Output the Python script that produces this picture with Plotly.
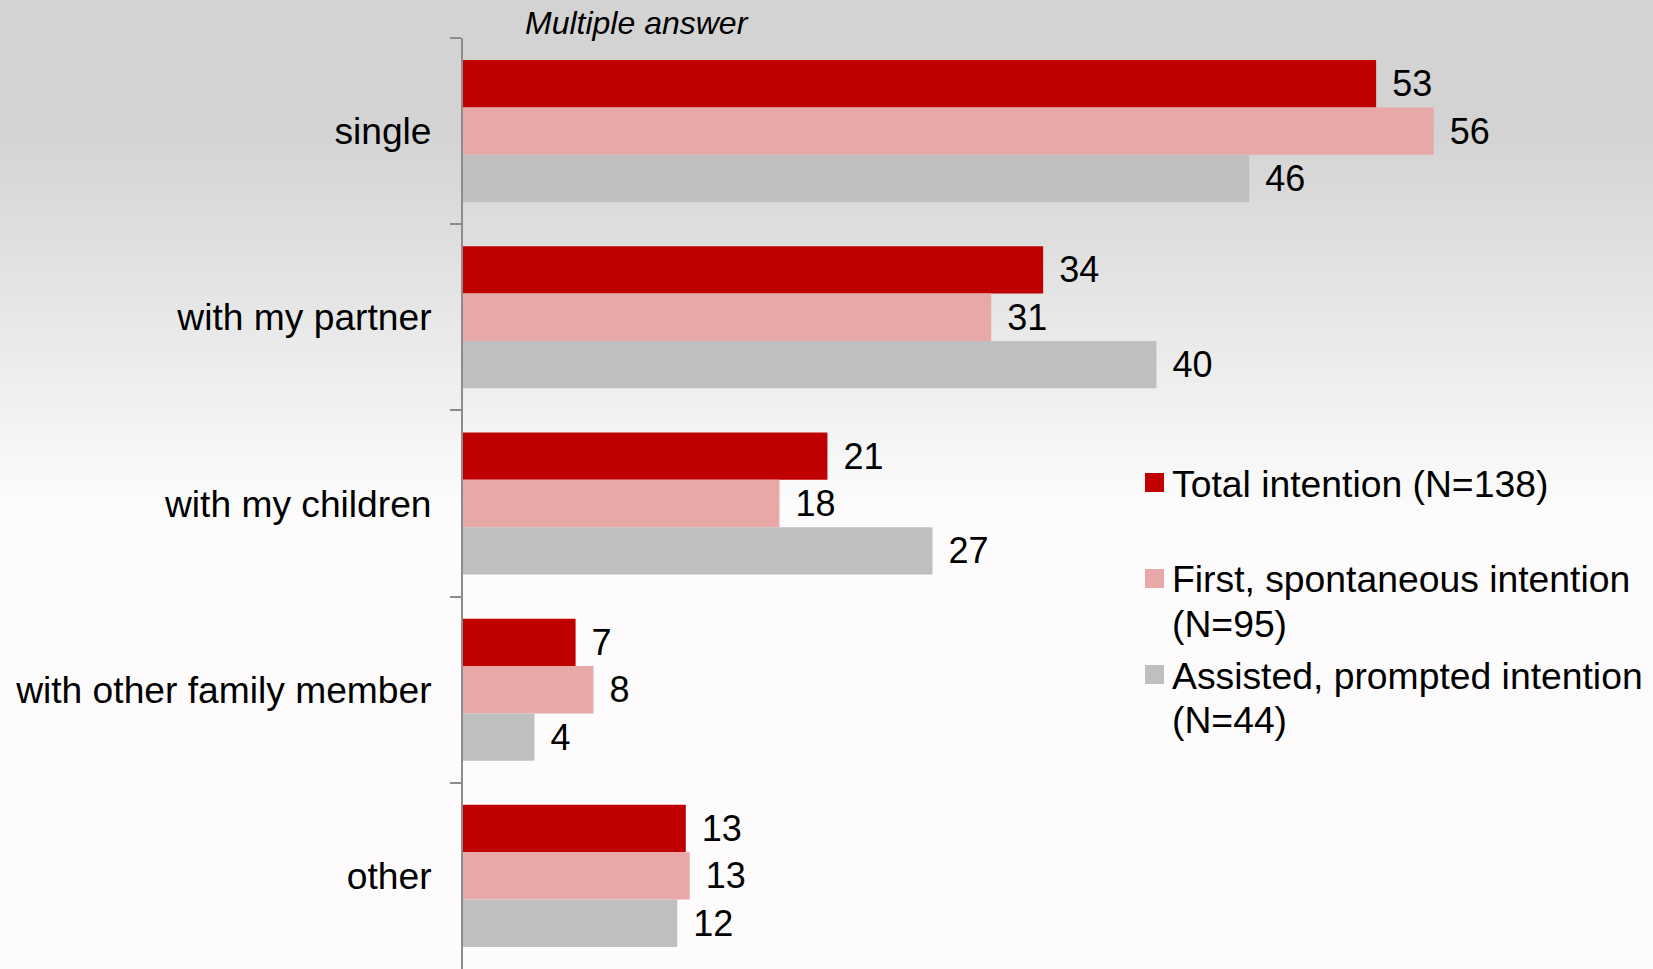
import plotly.graph_objects as go

categories = ["single", "with my partner", "with my children",
              "with other family member", "other"]
total_intention = [53.12, 33.75, 21.20, 6.55, 12.96]
first_intention = [56.47, 30.73, 18.41, 7.59, 13.19]
assisted_intention = [45.74, 40.34, 27.31, 4.16, 12.46]

series_names = ["Total intention (N=138)",
                "First, spontaneous intention<br>(N=95)",
                "Assisted, prompted intention<br>(N=44)"]
series_colors = ["#C00000", "#E9A8A8", "#BFBFBF"]
note_text = "Multiple answer"

W, H = 1653, 969
L, R, T, B = 463, 0, 38, 0
PW, PH = W - L - R, H - T - B
X_MAX = PW / 17.19


def fx(px):
    return (px - L) / PW


def fy(py):
    return (H - B - py) / PH


fig = go.Figure()
for name, vals, col in zip(series_names,
                           [total_intention, first_intention, assisted_intention],
                           series_colors):
    fig.add_trace(go.Bar(
        y=categories, x=vals, name=name.replace("<br>", " "), orientation="h",
        marker=dict(color=col, line=dict(width=0)),
        texttemplate=" \u200a%{x:.0f}", textposition="outside",
        textfont=dict(size=36, color="black"),
        cliponaxis=False, showlegend=False,
    ))

# background gradient: flat grey at the top, fading to near white
shapes = []
top_grey, bottom_grey = 211, 252
shapes.append(dict(type="rect", xref="paper", yref="paper", layer="below",
                   x0=-0.5, x1=1.1, y0=fy(126), y1=fy(-5), line_width=0,
                   fillcolor="rgb(211,211,211)"))
step = 6
start, end = 125, 505
py = start
while py < end:
    t = (py - start) / (end - start)
    g = round(top_grey + (bottom_grey - top_grey) * t)
    shapes.append(dict(type="rect", xref="paper", yref="paper", layer="below",
                       x0=-0.5, x1=1.1, y0=fy(py + step + 1), y1=fy(py),
                       line_width=0, fillcolor=f"rgb({g},{g},{g})"))
    py += step

# custom legend (symbol aligned with the first text line)
legend_tops = [473, 569, 665]
line_centres = [[483], [578, 623], [675, 719]]
annotations = []
for name, col, top, centres in zip(series_names, series_colors,
                                   legend_tops, line_centres):
    shapes.append(dict(type="rect", xref="paper", yref="paper",
                       x0=fx(1145), x1=fx(1164), y0=fy(top + 19), y1=fy(top),
                       line_width=0, fillcolor=col))
    for line, c in zip(name.split("<br>"), centres):
        annotations.append(dict(xref="paper", yref="paper", x=fx(1170),
                                y=fy(c - 22), xanchor="left", yanchor="top",
                                align="left", text=line, showarrow=False,
                                font=dict(size=37.3, color="black")))

annotations.append(dict(xref="paper", yref="paper", x=fx(523), y=fy(23),
                        xanchor="left", yanchor="middle", text=f"<i>{note_text}</i>",
                        showarrow=False, font=dict(size=32, color="black")))

fig.update_layout(
    width=W, height=H,
    margin=dict(l=L, r=R, t=T, b=B, pad=0),
    paper_bgcolor="#FDFBFC", plot_bgcolor="rgba(0,0,0,0)",
    font=dict(family="Liberation Sans, Arial, sans-serif", color="black"),
    barmode="group", bargap=0.237, bargroupgap=0,
    showlegend=False,
    shapes=shapes, annotations=annotations,
    xaxis=dict(range=[0, X_MAX], visible=False, showgrid=False, zeroline=False),
    yaxis=dict(autorange="reversed", showgrid=False, zeroline=False,
               showline=True, linecolor="#8C8C8C", linewidth=2,
               ticks="outside", ticklen=11, tickwidth=2, tickcolor="#8C8C8C",
               tickson="boundaries", ticklabelstandoff=22,
               tickfont=dict(size=37.2, color="black")),
)

fig.write_html("out.html", config={"displayModeBar": False},
               post_script="document.body.style.margin='0';"
                           "document.body.style.overflow='hidden';")
